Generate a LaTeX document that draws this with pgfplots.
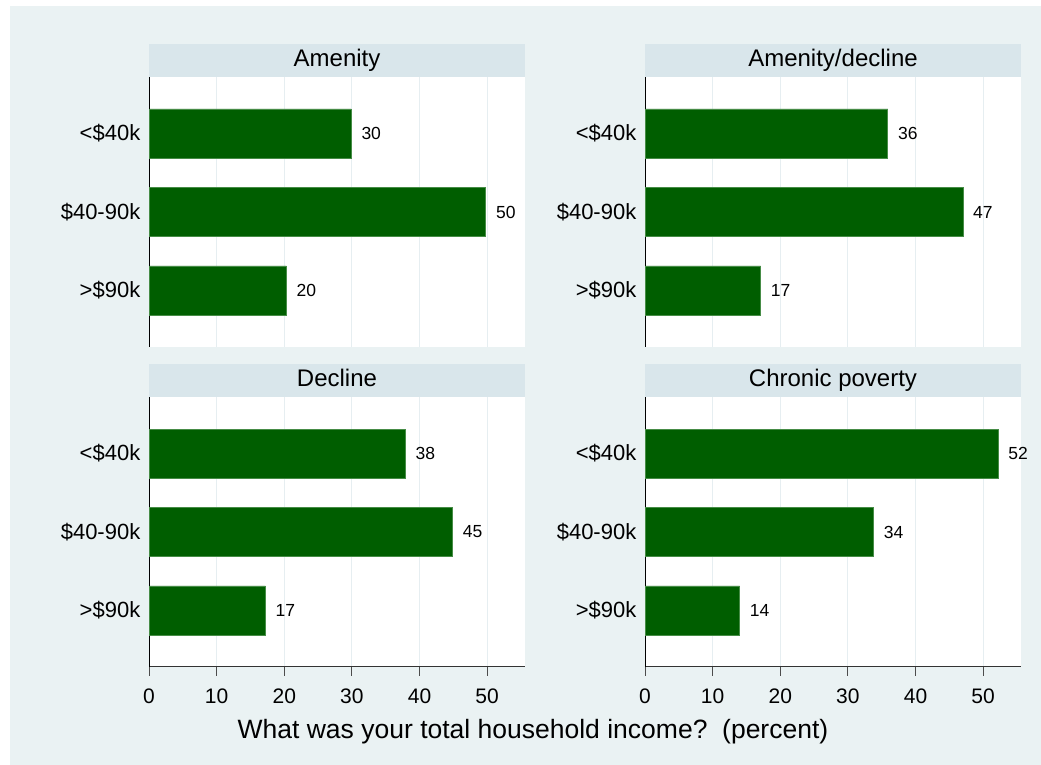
\documentclass[border=0pt]{standalone}
\usepackage{fontspec}
\setmainfont{Liberation Sans}
\usepackage{pgfplots}
\pgfplotsset{compat=1.18}
\definecolor{bgc}{HTML}{EAF2F3}
\definecolor{stripc}{HTML}{D9E6EB}
\definecolor{barc}{RGB}{0,94,0}
\definecolor{barline}{RGB}{70,140,70}
\definecolor{gridc}{HTML}{E6EEF1}
\pgfplotsset{
  panel/.style={
    scale only axis, width=376pt, height=270pt, anchor=south west,
    xbar, bar width=49pt,
    xmin=0, xmax=55.6, ymin=0.28, ymax=3.72,
    ytick={1,2,3}, yticklabels={>\$90k,\$40-90k,<\$40k},
    xtick={0,10,20,30,40,50},
    /pgf/number format/assume math mode=true,
    axis background/.style={fill=white},
    axis y line*=left, axis x line*=bottom,
    y axis line style={black, line width=1pt},
    ytick style={draw=none}, ytick align=inside,
    xmajorgrids,
    major x grid style={gridc, line width=1pt},
    yticklabel style={font=\fontsize{22}{26}\selectfont, inner sep=0pt, xshift=-8.5pt},
    xticklabel style={font=\fontsize{21}{25}\selectfont, inner sep=0pt, yshift=-12.5pt},
    clip=false,
    point meta=x,
    nodes near coords={\pgfmathprintnumber[fixed,precision=0,assume math mode=true]{\pgfplotspointmeta}},
    nodes near coords align={horizontal},
    every node near coord/.append style={font=\fontsize{17.5}{20}\selectfont, inner sep=0pt, anchor=west, xshift=10pt, text=black},
  },
  toppanel/.style={panel,
    x axis line style={draw=none}, xtick style={draw=none}, xticklabels={}},
  botpanel/.style={panel,
    x axis line style={draw=black!80, line width=1pt},
    xtick align=outside, major tick length=9pt,
    xtick style={draw=black!70, line width=1pt}},
  barsty/.style={fill=barc, draw=barline, line width=0.6pt},
}
\tikzset{striptitle/.style={font=\fontsize{24}{28}\selectfont, anchor=base, inner sep=0pt}}
\begin{document}
\begin{tikzpicture}[x=1pt,y=1pt]
\useasboundingbox (0pt,0pt) rectangle (1041pt,765pt);
\fill[bgc] (10pt,0pt) rectangle (1041pt,759pt);
% strips
\fill[stripc] (149pt,688pt) rectangle (525pt,721pt);
\fill[stripc] (645pt,688pt) rectangle (1021pt,721pt);
\fill[stripc] (149pt,368pt) rectangle (525pt,401pt);
\fill[stripc] (645pt,368pt) rectangle (1021pt,401pt);
\node[striptitle] at (337pt,698pt) {Amenity};
\node[striptitle] at (833pt,698pt) {Amenity/decline};
\node[striptitle] at (337pt,378pt) {Decline};
\node[striptitle] at (833pt,378pt) {Chronic poverty};

\begin{axis}[toppanel, at={(149pt,418pt)}]
\addplot[barsty] coordinates {(29.9,3) (49.8,2) (20.3,1)};
\end{axis}
\begin{axis}[toppanel, at={(645pt,418pt)}]
\addplot[barsty] coordinates {(35.9,3) (47.0,2) (17.1,1)};
\end{axis}
\begin{axis}[botpanel, at={(149pt,98pt)}]
\addplot[barsty] coordinates {(37.9,3) (44.9,2) (17.2,1)};
\end{axis}
\begin{axis}[botpanel, at={(645pt,98pt)}]
\addplot[barsty] coordinates {(52.2,3) (33.8,2) (14.0,1)};
\end{axis}
\node[font=\fontsize{26.5}{30}\selectfont] at (533pt,33pt) {What was your total household income?~~(percent)};
\end{tikzpicture}
\end{document}
